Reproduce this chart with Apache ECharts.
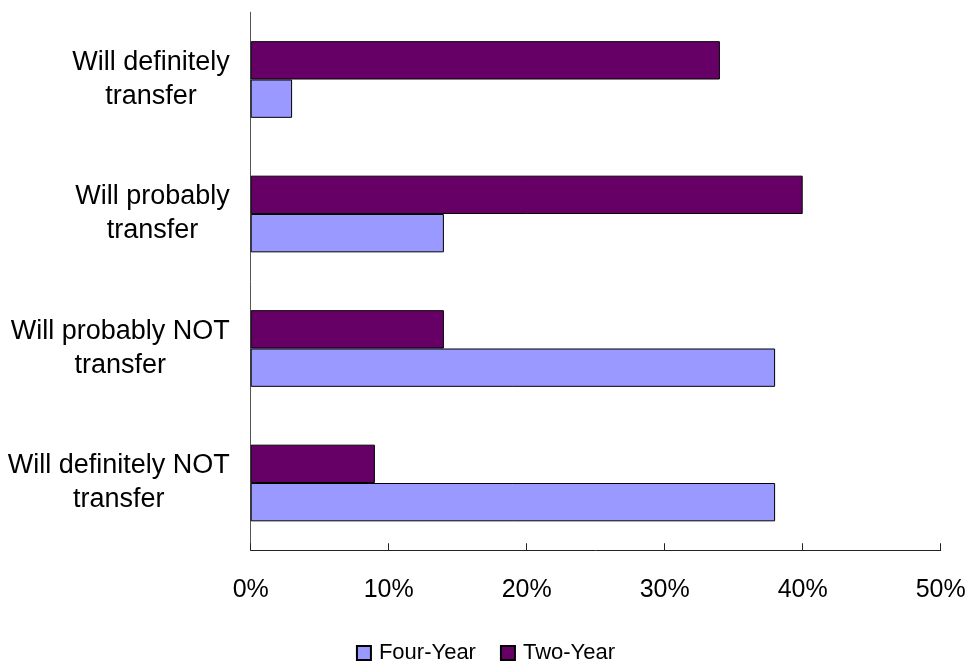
<!DOCTYPE html>
<html>
<head>
<meta charset="utf-8">
<script src="https://cdn.jsdelivr.net/npm/echarts@6/dist/echarts.min.js"></script>
<style>
  html, body { margin: 0; padding: 0; background: #fff; }
  #chart { width: 971px; height: 666px; }
</style>
</head>
<body>
<div id="chart"></div>
<script>
// Transfer intentions by institution type (percent of respondents)
const categories = [
  'Will definitely\ntransfer',
  'Will probably\ntransfer',
  'Will probably NOT\ntransfer',
  'Will definitely NOT\ntransfer'
];
const fourYear = [3, 14, 38, 38];
const twoYear = [34, 40, 14, 9];
const tickValues = [0, 10, 20, 30, 40, 50];
const legendNames = ['Four-Year', 'Two-Year'];

const FONT = '"Liberation Sans", Arial, sans-serif';

const chart = echarts.init(document.getElementById('chart'), null, { renderer: 'canvas' });

chart.setOption({
  backgroundColor: '#ffffff',
  animation: false,
  textStyle: { fontFamily: FONT, color: '#000' },
  grid: { left: 250.7, right: 30.3, top: 12.25, bottom: 115.75, containLabel: false },
  xAxis: {
    type: 'value',
    min: tickValues[0],
    max: tickValues[tickValues.length - 1],
    interval: 10,
    splitLine: { show: false },
    axisLine: { show: true, lineStyle: { color: '#222', width: 1 } },
    axisTick: { show: true, inside: true, length: 7, lineStyle: { color: '#222', width: 1 } },
    axisLabel: {
      formatter: '{value}%',
      fontFamily: FONT,
      fontSize: 25,
      color: '#000',
      margin: 27
    }
  },
  yAxis: {
    type: 'category',
    data: categories,
    inverse: true,
    axisLine: { show: true, lineStyle: { color: '#555', width: 1 } },
    axisTick: { show: false },
    splitLine: { show: false },
    axisLabel: {
      margin: 21,
      align: 'right',
      formatter: function (v) {
        return v.split('\n').map(function (s) { return '{c|' + s + '}'; }).join('\n');
      },
      rich: {
        c: {
          align: 'center',
          fontFamily: FONT,
          fontSize: 27,
          lineHeight: 34,
          color: '#000'
        }
      }
    }
  },
  legend: {
    data: legendNames,
    left: 'center',
    top: 637,
    itemWidth: 14,
    itemHeight: 14,
    itemGap: 24,
    icon: 'rect',
    textStyle: { fontFamily: FONT, fontSize: 22, color: '#000', padding: [0, 0, 0, 3] }
  },
  // Two-Year listed first so it sits above Four-Year in each category band
  series: [
    {
      name: 'Two-Year',
      type: 'bar',
      data: twoYear,
      barGap: '0%',
      barCategoryGap: '43%',
      itemStyle: { color: '#660066', borderColor: '#000', borderWidth: 1 }
    },
    {
      name: 'Four-Year',
      type: 'bar',
      data: fourYear,
      barGap: '0%',
      barCategoryGap: '43%',
      itemStyle: { color: '#9999FF', borderColor: '#000', borderWidth: 1 }
    }
  ]
});
</script>
</body>
</html>
